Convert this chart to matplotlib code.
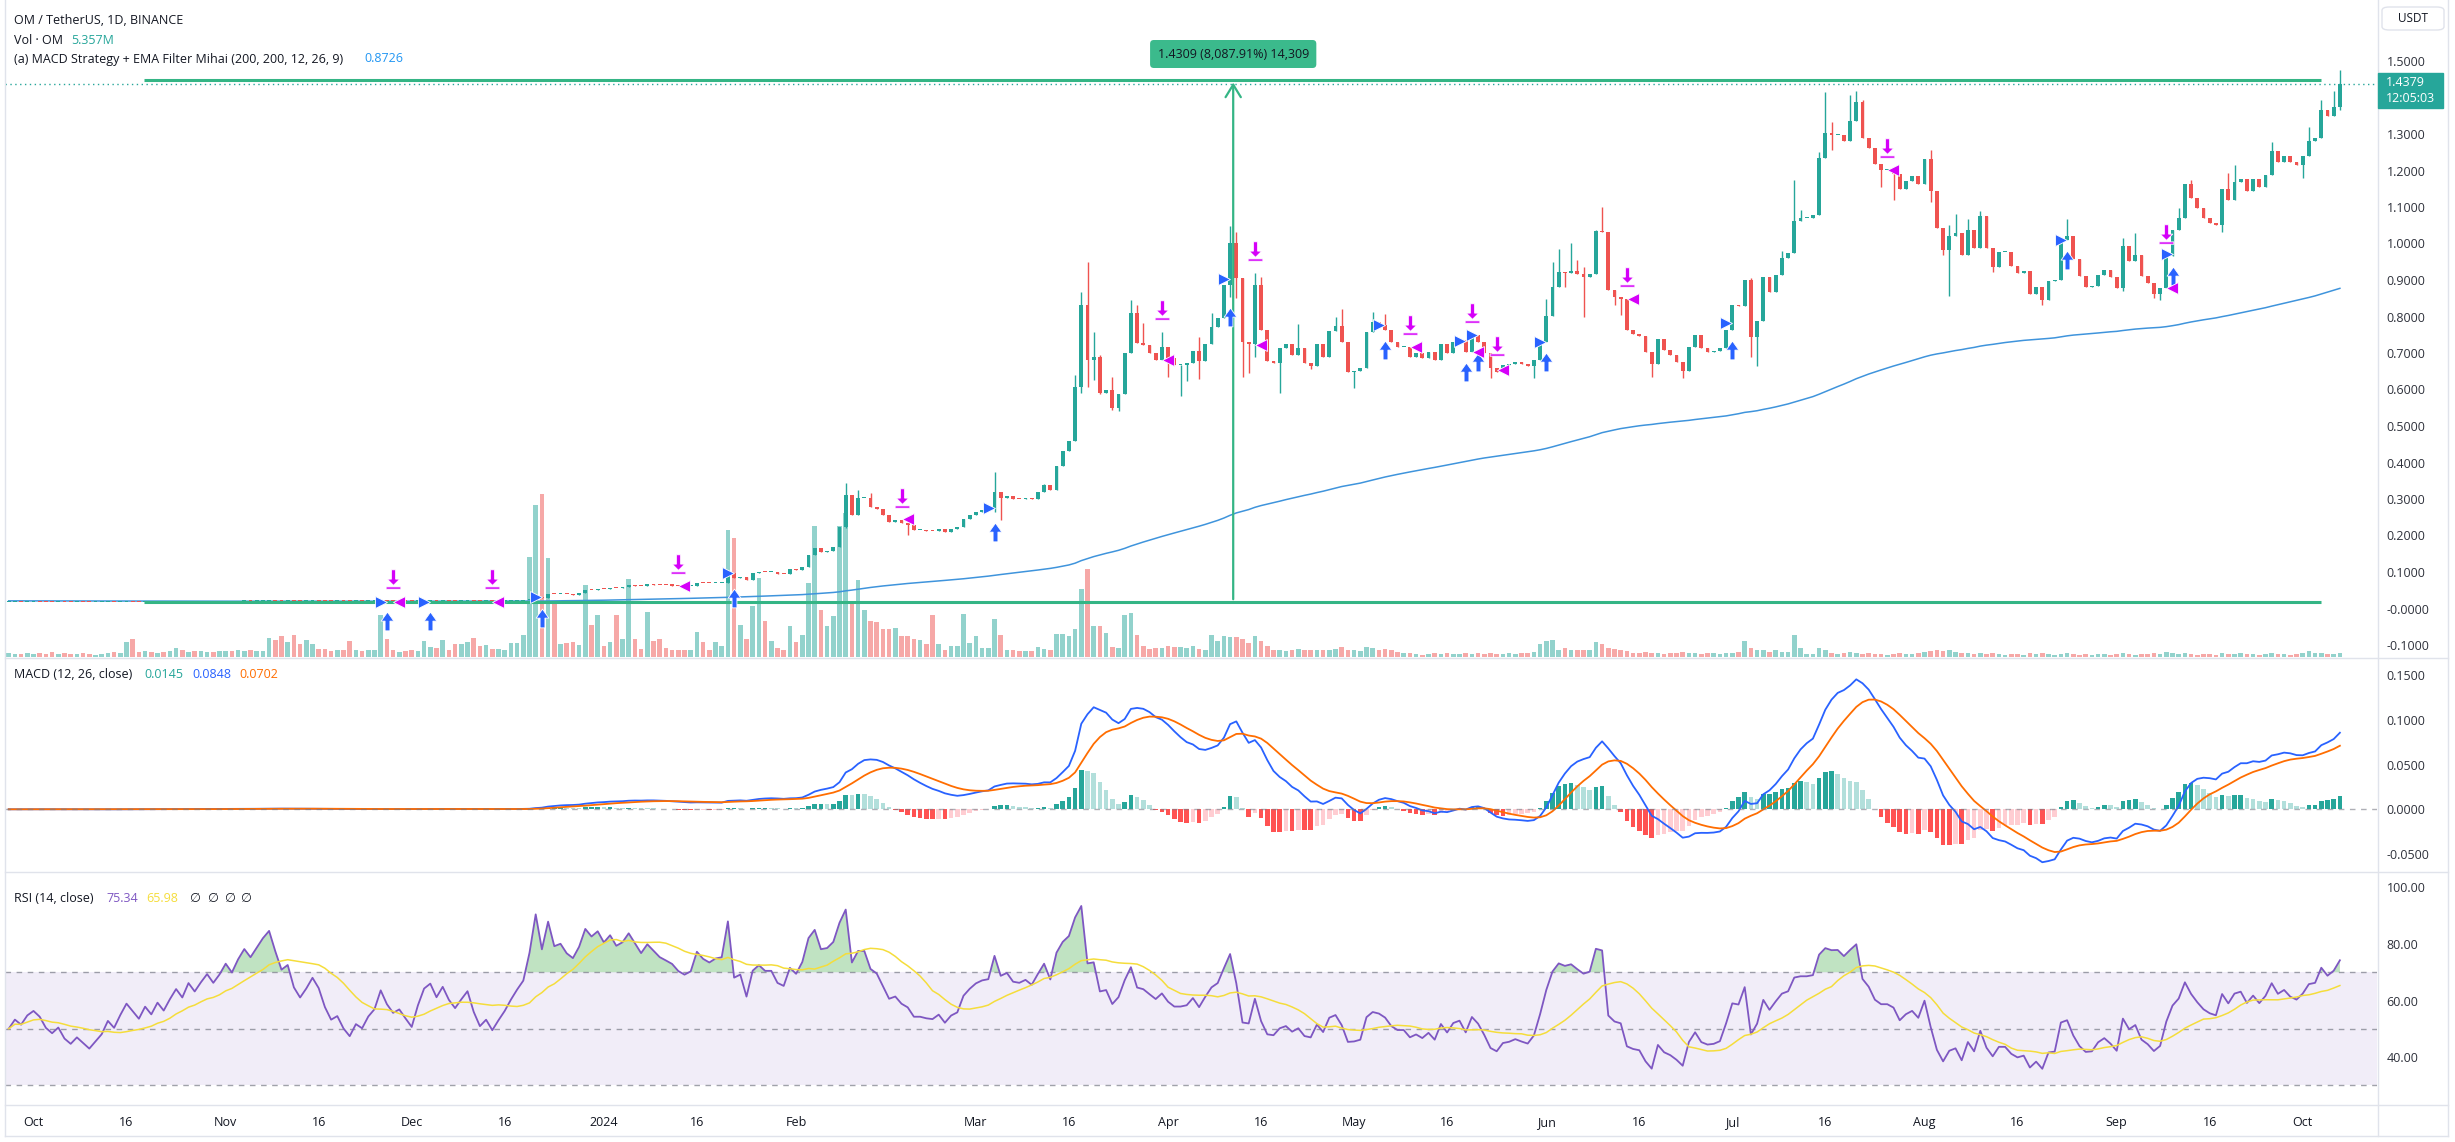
import numpy as np
import pandas as pd
import matplotlib
matplotlib.use("Agg")
import matplotlib.pyplot as plt
import matplotlib.dates as mdates
from matplotlib.path import Path
from matplotlib.transforms import offset_copy
from matplotlib.patches import Rectangle, FancyBboxPatch
from matplotlib.lines import Line2D

plt.rcParams['font.family'] = ['Open Sans', 'DejaVu Sans']

# ---------------------------------------------------------------- data
start_date = "2023-09-27"

close_sep23 = [0.0172, 0.0174, 0.0173, 0.0175]
close_oct23 = [0.0176, 0.0175, 0.0173, 0.0172, 0.0173, 0.0171, 0.0170, 0.0171, 0.0170, 0.0169,
               0.0170, 0.0171, 0.0173, 0.0172, 0.0174, 0.0176, 0.0175, 0.0174, 0.0176, 0.0175,
               0.0177, 0.0176, 0.0178, 0.0180, 0.0179, 0.0182, 0.0181, 0.0183, 0.0185, 0.0184,
               0.0186]
close_nov23 = [0.0189, 0.0188, 0.0192, 0.0196, 0.0195, 0.0199, 0.0204, 0.0209, 0.0206, 0.0203,
               0.0205, 0.0201, 0.0199, 0.0202, 0.0206, 0.0204, 0.0200, 0.0197, 0.0198, 0.0195,
               0.0193, 0.0196, 0.0195, 0.0198, 0.0200, 0.0206, 0.0203, 0.0201, 0.0202, 0.0200]
close_dec23 = [0.0198, 0.0204, 0.0210, 0.0212, 0.0209, 0.0213, 0.0210, 0.0208, 0.0211, 0.0214,
               0.0209, 0.0205, 0.0207, 0.0204, 0.0207, 0.0210, 0.0214, 0.0218, 0.0222, 0.0240,
               0.0320, 0.0300, 0.0410, 0.0385, 0.0395, 0.0385, 0.0380, 0.0420, 0.0520, 0.0510,
               0.0545]
close_jan24 = [0.0530, 0.0575, 0.0560, 0.0580, 0.0640, 0.0625, 0.0610, 0.0660, 0.0650, 0.0640,
               0.0635, 0.0630, 0.0620, 0.0615, 0.0625, 0.0700, 0.0690, 0.0685, 0.0700, 0.0705,
               0.0970, 0.0830, 0.0850, 0.0780, 0.0960, 0.1010, 0.0990, 0.0990, 0.0950, 0.0940,
               0.1070]
close_feb24 = [0.105, 0.115, 0.147, 0.165, 0.156, 0.158, 0.169, 0.224, 0.311, 0.256,
               0.302, 0.302, 0.279, 0.273, 0.256, 0.238, 0.243, 0.233, 0.228, 0.215,
               0.215, 0.213, 0.212, 0.218, 0.209, 0.218, 0.222, 0.245, 0.256]
close_mar24 = [0.265, 0.270, 0.272, 0.320, 0.302, 0.308, 0.300, 0.299, 0.304, 0.300,
               0.318, 0.338, 0.325, 0.390, 0.431, 0.459, 0.608, 0.832, 0.681, 0.690,
               0.591, 0.600, 0.548, 0.587, 0.699, 0.809, 0.728, 0.721, 0.701, 0.682,
               0.716]
close_apr24 = [0.685, 0.667, 0.667, 0.673, 0.706, 0.678, 0.725, 0.772, 0.795, 0.886,
               1.002, 0.906, 0.731, 0.726, 0.886, 0.763, 0.678, 0.672, 0.713, 0.726,
               0.695, 0.713, 0.672, 0.665, 0.726, 0.690, 0.761, 0.775, 0.731, 0.649]
close_may24 = [0.651, 0.658, 0.758, 0.784, 0.778, 0.763, 0.731, 0.716, 0.716, 0.690,
               0.699, 0.687, 0.702, 0.681, 0.726, 0.701, 0.729, 0.736, 0.704, 0.749,
               0.731, 0.699, 0.658, 0.647, 0.667, 0.670, 0.676, 0.670, 0.665, 0.681,
               0.729]
close_jun24 = [0.802, 0.880, 0.923, 0.918, 0.926, 0.917, 0.909, 0.917, 1.035, 1.032,
               0.873, 0.853, 0.847, 0.763, 0.752, 0.747, 0.702, 0.669, 0.737, 0.707,
               0.695, 0.676, 0.651, 0.717, 0.748, 0.713, 0.704, 0.706, 0.713, 0.763]
close_jul24 = [0.832, 0.829, 0.900, 0.745, 0.789, 0.907, 0.868, 0.914, 0.959, 0.973,
               1.062, 1.071, 1.071, 1.078, 1.235, 1.302, 1.296, 1.298, 1.282, 1.335,
               1.389, 1.288, 1.262, 1.217, 1.201, 1.201, 1.190, 1.148, 1.172, 1.185,
               1.164]
close_aug24 = [1.232, 1.143, 1.043, 0.981, 1.020, 1.029, 0.968, 1.036, 0.989, 1.075,
               0.987, 0.936, 0.976, 0.976, 0.939, 0.920, 0.926, 0.863, 0.882, 0.844,
               0.897, 0.900, 1.010, 1.020, 0.958, 0.910, 0.882, 0.884, 0.914, 0.928,
               0.907]
close_sep24 = [0.879, 0.992, 0.952, 0.968, 0.911, 0.892, 0.863, 0.879, 0.965, 1.036,
               1.071, 1.164, 1.125, 1.096, 1.071, 1.057, 1.050, 1.149, 1.118, 1.168,
               1.178, 1.143, 1.178, 1.155, 1.188, 1.253, 1.222, 1.241, 1.222, 1.214]
close_oct24 = [1.239, 1.282, 1.288, 1.367, 1.348, 1.375, 1.4379]

# visible wick extremes (high, low); None = no wick on that side
wicks = {
    "2024-02-09": (0.343, 0.220), "2024-02-11": (0.325, None), "2024-02-13": (0.316, None),
    "2024-02-19": (None, 0.201), "2024-03-04": (0.375, 0.265), "2024-03-05": (None, 0.242),
    "2024-03-12": (0.341, None), "2024-03-17": (0.640, None), "2024-03-18": (0.868, 0.590),
    "2024-03-19": (0.950, 0.608), "2024-03-20": (0.758, 0.626), "2024-03-21": (0.695, 0.589),
    "2024-03-23": (0.635, 0.544), "2024-03-24": (None, 0.540), "2024-03-26": (0.845, None),
    "2024-03-27": (0.831, None), "2024-03-28": (0.781, None), "2024-03-31": (0.758, None),
    "2024-04-01": (None, 0.635), "2024-04-03": (None, 0.582), "2024-04-04": (None, 0.622),
    "2024-04-06": (0.745, 0.628), "2024-04-08": (0.810, None), "2024-04-11": (1.048, 0.854),
    "2024-04-12": (1.032, 0.850), "2024-04-13": (None, 0.633), "2024-04-14": (None, 0.644),
    "2024-04-15": (0.918, 0.690), "2024-04-16": (0.909, None), "2024-04-19": (None, 0.591),
    "2024-04-22": (0.779, None), "2024-04-24": (None, 0.655), "2024-04-28": (0.800, None),
    "2024-04-29": (0.820, None), "2024-05-01": (None, 0.603), "2024-05-04": (0.813, None),
    "2024-05-06": (0.808, None), "2024-05-23": (None, 0.631), "2024-05-30": (None, 0.631),
    "2024-06-01": (0.849, None), "2024-06-02": (0.950, None), "2024-06-03": (0.984, None),
    "2024-06-04": (None, 0.882), "2024-06-05": (1.001, None), "2024-06-06": (0.955, None),
    "2024-06-07": (0.935, 0.799), "2024-06-09": (1.037, None), "2024-06-10": (1.101, None),
    "2024-06-12": (None, 0.832), "2024-06-13": (None, 0.804), "2024-06-18": (None, 0.635),
    "2024-06-23": (None, 0.631), "2024-07-04": (0.905, 0.690), "2024-07-05": (None, 0.665),
    "2024-07-09": (0.979, None), "2024-07-11": (1.174, None), "2024-07-12": (1.092, None),
    "2024-07-15": (1.251, None), "2024-07-16": (1.414, None), "2024-07-17": (1.332, 1.256),
    "2024-07-20": (1.406, None), "2024-07-21": (1.419, None), "2024-07-22": (1.392, None),
    "2024-07-25": (None, 1.154), "2024-07-27": (None, 1.120), "2024-08-02": (1.257, 1.113),
    "2024-08-04": (None, 0.968), "2024-08-05": (1.052, 0.855), "2024-08-06": (1.080, None),
    "2024-08-08": (1.068, None), "2024-08-10": (1.088, None), "2024-08-12": (None, 0.921),
    "2024-08-20": (None, 0.832), "2024-08-24": (1.068, None), "2024-09-02": (1.015, 0.869),
    "2024-09-04": (1.029, None), "2024-09-07": (None, 0.850), "2024-09-08": (None, 0.844),
    "2024-09-11": (1.096, None), "2024-09-13": (1.175, None), "2024-09-18": (None, 1.031),
    "2024-09-19": (1.194, None), "2024-09-20": (1.215, None), "2024-09-26": (1.278, None),
    "2024-10-01": (None, 1.180), "2024-10-02": (1.319, None), "2024-10-04": (1.393, None),
    "2024-10-06": (1.417, None), "2024-10-07": (1.476, 1.367),
}

# volume in millions OM
vol_sep23 = [5, 4, 4, 5]
vol_oct23 = [4, 5, 4, 6, 4, 5, 4, 4, 5, 4, 3, 4, 5, 6, 5, 18, 22, 6, 7, 6, 5, 6, 7, 11, 8, 6, 7, 7, 6, 6, 7]
vol_nov23 = [7, 7, 8, 7, 8, 7, 7, 23, 20, 25, 18, 26, 16, 21, 16, 10, 10, 7, 8, 8, 19, 8, 7, 8, 9, 51, 22, 8, 6, 7]
vol_dec23 = [8, 7, 19, 12, 11, 21, 9, 16, 16, 18, 23, 13, 14, 10, 10, 9, 17, 17, 26, 120, 183, 196, 119, 67,
             16, 17, 18, 14, 87, 39, 51]
vol_jan24 = [13, 18, 51, 22, 94, 22, 10, 54, 19, 22, 11, 9, 8, 8, 8, 30, 18, 8, 18, 13, 153, 143, 38, 22,
             61, 95, 43, 19, 11, 8, 37]
vol_feb24 = [18, 26, 89, 157, 56, 37, 49, 157, 173, 66, 92, 56, 43, 42, 34, 34, 35, 25, 25, 22, 21, 16, 50,
             16, 8, 13, 13, 52, 17]
vol_mar24 = [25, 11, 11, 46, 26, 8, 8, 7, 7, 7, 12, 10, 8, 28, 28, 25, 34, 82, 106, 37, 37, 29, 12, 11, 50,
             53, 26, 13, 10, 11, 11]
vol_apr24 = [13, 12, 12, 11, 13, 10, 8, 26, 19, 25, 24, 24, 22, 17, 25, 19, 13, 8, 8, 7, 8, 10, 8, 9, 8, 9,
             9, 10, 12, 9]
vol_may24 = [8, 7, 12, 11, 8, 10, 8, 6, 5, 5, 4, 3, 4, 5, 4, 5, 4, 4, 5, 4, 5, 4, 5, 4, 4, 5, 4, 5, 5, 6, 16]
vol_jun24 = [19, 20, 9, 11, 8, 9, 9, 8, 18, 16, 11, 10, 8, 7, 5, 5, 6, 5, 5, 4, 5, 5, 6, 5, 5, 4, 5, 5, 4, 5]
vol_jul24 = [5, 6, 19, 11, 9, 8, 6, 8, 6, 6, 26, 11, 4, 4, 11, 9, 5, 4, 5, 6, 5, 4, 5, 4, 4, 3, 4, 5, 4, 4, 5]
vol_aug24 = [6, 7, 8, 7, 9, 6, 5, 5, 4, 5, 4, 5, 4, 3, 4, 4, 3, 5, 4, 5, 4, 3, 4, 5, 4, 3, 4, 3, 4, 4, 3]
vol_sep24 = [4, 5, 4, 3, 4, 4, 5, 4, 6, 5, 4, 5, 4, 3, 4, 4, 3, 5, 4, 4, 5, 4, 4, 3, 4, 5, 4, 4, 3, 4]
vol_oct24 = [5, 7, 5, 5, 4, 4, 5.357]

ema200_seed = 0.021     # EMA(200) level at the left edge of the chart
rsi_seed_avg = 0.00012  # average up/down move carried in from before the visible range

# strategy trades
entry_dates = ["2023-11-27", "2023-12-04", "2023-12-22", "2024-01-22", "2024-03-04", "2024-04-11",
               "2024-05-06", "2024-05-19", "2024-05-21", "2024-06-01", "2024-07-01", "2024-08-24",
               "2024-09-10"]
entry_prices = [0.017, 0.017, 0.032, 0.097, 0.274, 0.902, 0.777, 0.734, 0.749, 0.729, 0.781, 1.010, 0.970]
exit_dates = ["2023-11-28", "2023-12-14", "2024-01-13", "2024-02-18", "2024-03-31", "2024-04-15",
              "2024-05-10", "2024-05-20", "2024-05-24", "2024-06-14", "2024-07-26", "2024-09-09"]
exit_prices = [0.017, 0.017, 0.062, 0.244, 0.681, 0.722, 0.717, 0.704, 0.653, 0.848, 1.201, 0.879]

# price-range measurement
meas_low, meas_high = 0.0177, 1.4486
meas_start, meas_end, meas_x = "2023-10-18 19:00", "2024-10-03 21:30", "2024-04-11 12:00"
meas_label = "1.4309 (8,087.91%) 14,309"
last_price = 1.4379

price_ticks = [-0.1, 0.0, 0.1, 0.2, 0.3, 0.4, 0.5, 0.6, 0.7, 0.8, 0.9, 1.0, 1.1, 1.2, 1.3, 1.5]
macd_ticks = [-0.05, 0.0, 0.05, 0.10, 0.15]
rsi_ticks = [40, 60, 80, 100]
xtick_dates = ["2023-10-01", "2023-10-16", "2023-11-01", "2023-11-16", "2023-12-01", "2023-12-16",
               "2024-01-01", "2024-01-16", "2024-02-01", "2024-03-01", "2024-03-16", "2024-04-01",
               "2024-04-16", "2024-05-01", "2024-05-16", "2024-06-01", "2024-06-16", "2024-07-01",
               "2024-07-16", "2024-08-01", "2024-08-16", "2024-09-01", "2024-09-16", "2024-10-01"]
xtick_labels = ["Oct", "16", "Nov", "16", "Dec", "16", "2024", "16", "Feb", "Mar", "16", "Apr",
                "16", "May", "16", "Jun", "16", "Jul", "16", "Aug", "16", "Sep", "16", "Oct"]

# ---------------------------------------------------------------- build series
close = np.array(close_sep23 + close_oct23 + close_nov23 + close_dec23 + close_jan24 + close_feb24 +
                 close_mar24 + close_apr24 + close_may24 + close_jun24 + close_jul24 + close_aug24 +
                 close_sep24 + close_oct24, dtype=float)
volume = np.array(vol_sep23 + vol_oct23 + vol_nov23 + vol_dec23 + vol_jan24 + vol_feb24 + vol_mar24 +
                  vol_apr24 + vol_may24 + vol_jun24 + vol_jul24 + vol_aug24 + vol_sep24 + vol_oct24,
                  dtype=float)
dates = pd.date_range(start_date, periods=len(close), freq="D")
x = mdates.date2num(dates)
opn = np.r_[close[0], close[:-1]]
high = np.maximum(opn, close)
low = np.minimum(opn, close)
idx = {d.strftime("%Y-%m-%d"): i for i, d in enumerate(dates)}
for k, (hh, ll) in wicks.items():
    i = idx[k]
    if hh is not None:
        high[i] = max(high[i], hh)
    if ll is not None:
        low[i] = min(low[i], ll)

s = pd.Series(close)
ema200 = []
e = ema200_seed
for c in close:
    e = e + 2.0 / 201.0 * (c - e)
    ema200.append(e)
ema200 = np.array(ema200)
macd = s.ewm(span=12, adjust=False).mean() - s.ewm(span=26, adjust=False).mean()
signal = macd.ewm(span=9, adjust=False).mean()
hist = (macd - signal).values

g_avg = l_avg = rsi_seed_avg
rsi = []
for dlt in np.r_[0.0, np.diff(close)]:
    g_avg += (max(dlt, 0.0) - g_avg) / 14.0
    l_avg += (max(-dlt, 0.0) - l_avg) / 14.0
    rsi.append(100.0 - 100.0 / (1.0 + g_avg / l_avg))
rsi = np.array(rsi)
rsi_ma = pd.Series(rsi).rolling(14, min_periods=1).mean().values

# ---------------------------------------------------------------- figure
W, H = 2455, 1142
fig = plt.figure(figsize=(W / 100, H / 100), dpi=100, facecolor="white")

def rect(x0, y0, x1, y1):
    return [x0 / W, 1 - y1 / H, (x1 - x0) / W, (y1 - y0) / H]

PX_DAY = 6.2
X0_PX = 33.5            # pixel of 2023-10-01
LEFT, RIGHT = 5, 2377
d_ref = mdates.date2num(pd.Timestamp("2023-10-01"))
xlim = (d_ref + (LEFT - X0_PX) / PX_DAY, d_ref + (RIGHT - X0_PX) / PX_DAY)

axv = fig.add_axes(rect(LEFT, 0, RIGHT, 657))
ax = fig.add_axes(rect(LEFT, 0, RIGHT, 657), sharex=axv)
axm = fig.add_axes(rect(LEFT, 658, RIGHT, 871), sharex=axv)
axr = fig.add_axes(rect(LEFT, 872, RIGHT, 1105), sharex=axv)
ax.patch.set_visible(False)
axv.axis("off")

UP, DN = "#26A69A", "#EF5350"
TXT = "#131722"
AXTXT = "#2f323c"
FS = 9

for a in (ax, axm, axr):
    for sp in a.spines.values():
        sp.set_visible(False)
    a.yaxis.tick_right()
    a.tick_params(axis="y", length=0, pad=7, labelsize=FS, labelcolor=AXTXT)
    a.tick_params(axis="x", length=0)
axv.set_xlim(*xlim)

# volume
vcol = np.where(close >= opn, "#26A69A", "#EF5350")
axv.bar(x, volume, width=0.72, color=vcol, alpha=0.5, linewidth=0)
axv.set_ylim(0, 790)

# price
ax.set_ylim((608.5 - 657) / 365, 608.5 / 365)
ccol = np.where(close >= opn, UP, DN)
ax.vlines(x, low, high, colors=ccol, linewidth=1.0, zorder=3)
ax.bar(x, np.maximum(np.abs(close - opn), 0.0028), bottom=np.minimum(opn, close), width=0.64,
       color=ccol, linewidth=0, zorder=4)
ax.plot(x, ema200, color="#3f94dc", linewidth=1.1, zorder=2)
ax.axhline(last_price, color=UP, linewidth=1.0, linestyle=(0, (1, 2.5)), zorder=2)

# measurement
mc = "#34B585"
ms_ = mdates.date2num(pd.Timestamp(meas_start))
me_ = mdates.date2num(pd.Timestamp(meas_end))
mx_ = mdates.date2num(pd.Timestamp(meas_x))
ax.hlines([meas_low, meas_high], ms_, me_, colors=mc, linewidth=2.2, zorder=5)
ax.annotate("", xy=(mx_, meas_high), xytext=(mx_, meas_low),
            arrowprops=dict(arrowstyle="->,head_length=0.9,head_width=0.55", color=mc, lw=1.6),
            zorder=5)
ax.text(mx_, (608.5 - 54) / 365, meas_label, ha="center", va="center", fontsize=FS, color=TXT,
        zorder=6, bbox=dict(boxstyle="round,pad=0.6,rounding_size=0.3", fc="#3BBA8C", ec="none"))

# trade markers
def off(dx, dy):
    return offset_copy(ax.transData, fig=fig, x=dx, y=dy, units="dots")

up_arrow = Path([(-0.13, -0.5), (0.13, -0.5), (0.13, 0.02), (0.34, 0.02), (0, 0.5), (-0.34, 0.02),
                 (-0.13, 0.02), (-0.13, -0.5)],
                [Path.MOVETO] + [Path.LINETO] * 6 + [Path.CLOSEPOLY])
dn_arrow = Path([(-0.11, 0.5), (0.11, 0.5), (0.11, 0.02), (0.32, 0.02), (0, -0.3), (-0.32, 0.02), (-0.11, 0.02),
                 (-0.11, 0.5),
                 (-0.38, -0.38), (0.38, -0.38), (0.38, -0.5), (-0.38, -0.5), (-0.38, -0.38)],
                [Path.MOVETO] + [Path.LINETO] * 6 + [Path.CLOSEPOLY] +
                [Path.MOVETO] + [Path.LINETO] * 3 + [Path.CLOSEPOLY])
BLUE, MAG = "#2962FF", "#D500F9"
ei = [idx[d] for d in entry_dates]
xi = [idx[d] for d in exit_dates]
ax.plot(x[ei], low[ei], ls="none", marker=up_arrow, ms=13.5, color=BLUE, mec="white", mew=0.6,
        transform=off(0, -20), zorder=7)
ax.plot(x[ei], entry_prices, ls="none", marker=">", ms=8.5, color=BLUE, mec="white", mew=0.6,
        transform=off(-6, 0), zorder=7)
ax.plot(x[xi], high[xi], ls="none", marker=dn_arrow, ms=14, color=MAG, mec="white", mew=0.6,
        transform=off(0, 22), zorder=7)
ax.plot(x[xi], exit_prices, ls="none", marker="<", ms=8.5, color=MAG, mec="white", mew=0.6,
        transform=off(6, 0), zorder=7)

ax.set_yticks(price_ticks)
ax.set_yticklabels(["-0.0000" if abs(v) < 1e-9 else f"{v:.4f}" for v in price_ticks])
ax.tick_params(axis="x", labelbottom=False)

# MACD
axm.set_ylim((809.3 - 871) / 896, (809.3 - 658) / 896)
prev = np.r_[hist[0], hist[:-1]]
hcol = np.where(hist >= 0, np.where(hist > prev, "#26A69A", "#B2DFDB"),
                np.where(hist < prev, "#FF5252", "#FFCDD2"))
axm.bar(x, hist, width=0.72, color=hcol, linewidth=0)
axm.plot(x, macd.values, color="#2962FF", linewidth=1.3)
axm.plot(x, signal.values, color="#FF6D00", linewidth=1.3)
axm.axhline(0, color="#787B86", linewidth=1, linestyle=(0, (4, 4)), alpha=0.6)
axm.set_yticks(macd_ticks)
axm.set_yticklabels([f"{v:.4f}" for v in macd_ticks])
axm.tick_params(axis="x", labelbottom=False)

# RSI
axr.set_ylim(80 - (1105 - 944) / 2.825, 80 + (944 - 872) / 2.825)
axr.axhspan(30, 70, color="#7E57C2", alpha=0.1, linewidth=0)
for lv in (70, 50, 30):
    axr.axhline(lv, color="#787B86", linewidth=1, linestyle=(0, (4, 4)), alpha=0.7)
axr.fill_between(x, rsi, 70, where=rsi > 70, interpolate=True, color="#4CAF50", alpha=0.35, linewidth=0)
axr.fill_between(x, rsi, 30, where=rsi < 30, interpolate=True, color="#F44336", alpha=0.35, linewidth=0)
axr.plot(x, rsi, color="#7E57C2", linewidth=1.3)
axr.plot(x, rsi_ma, color="#F5DD3B", linewidth=1.1)
axr.set_yticks(rsi_ticks)
axr.set_yticklabels([f"{v:.2f}" for v in rsi_ticks])
axr.set_xticks(mdates.date2num(pd.to_datetime(xtick_dates)))
axr.set_xticklabels(xtick_labels)
axr.tick_params(axis="x", pad=8, labelsize=FS, labelcolor=TXT)

# separators / borders
def hline_px(y, x0=0, x1=W, c="#E0E3EB"):
    fig.add_artist(Line2D([x0 / W, x1 / W], [1 - y / H, 1 - y / H], color=c, linewidth=1))

def vline_px(xp, y0=0, y1=H, c="#E0E3EB"):
    fig.add_artist(Line2D([xp / W, xp / W], [1 - y0 / H, 1 - y1 / H], color=c, linewidth=1))

hline_px(657.5, 5, 2448)
hline_px(871.5, 5, 2448)
hline_px(1104.5, 5, 2448)
hline_px(1135.5, 5, 2448)
vline_px(2377.5, 0, 1136)
vline_px(2447.5, 0, 1136)
vline_px(4.5, 0, 1136)

# price badge
badge_y = 608.5 - 365 * last_price
fig.add_artist(Rectangle((2378 / W, 1 - (badge_y + 24) / H), 65 / W, 35 / H,
                         transform=fig.transFigure, color=UP, zorder=10))
fig.text(2386 / W, 1 - (badge_y - 1) / H, f"{last_price:.4f}", color="white", fontsize=FS,
         va="center", ha="left", zorder=11)
fig.text(2386 / W, 1 - (badge_y + 15) / H, "12:05:03", color="white", fontsize=FS,
         va="center", ha="left", zorder=11)
# currency button
fig.add_artist(FancyBboxPatch((2382 / W, 1 - 30 / H), 62 / W, 23 / H,
                              boxstyle="round,pad=0,rounding_size=0.003", transform=fig.transFigure,
                              fc="white", ec="#E0E3EB", lw=1, zorder=10))
fig.text(2413 / W, 1 - 18.5 / H, "USDT", color=TXT, fontsize=FS - 0.5, ha="center", va="center", zorder=11)

# legends
def ftxt(xp, yp, s, c=TXT):
    fig.text(xp / W, 1 - yp / H, s, color=c, fontsize=FS, ha="left", va="center")

ftxt(14, 20.7, "OM / TetherUS, 1D, BINANCE")
ftxt(14, 40, "Vol · OM")
ftxt(71, 40, "5.357M", "#26A69A")
ftxt(14, 59, "(a) MACD Strategy + EMA Filter Mihai (200, 200, 12, 26, 9)")
ftxt(364, 59, "0.8726", "#2196F3")
ftxt(14, 675, "MACD (12, 26, close)")
ftxt(144, 675, "0.0145", "#26A69A")
ftxt(192, 675, "0.0848", "#2962FF")
ftxt(239, 675, "0.0702", "#FF6D00")
ftxt(14, 899, "RSI (14, close)")
ftxt(106, 899, "75.34", "#7E57C2")
ftxt(146, 899, "65.98", "#F5DD3B")
for xp in (189, 207, 224, 240):
    ftxt(xp, 899, "\u2205")

fig.savefig("out.png", dpi=100, facecolor="white")
